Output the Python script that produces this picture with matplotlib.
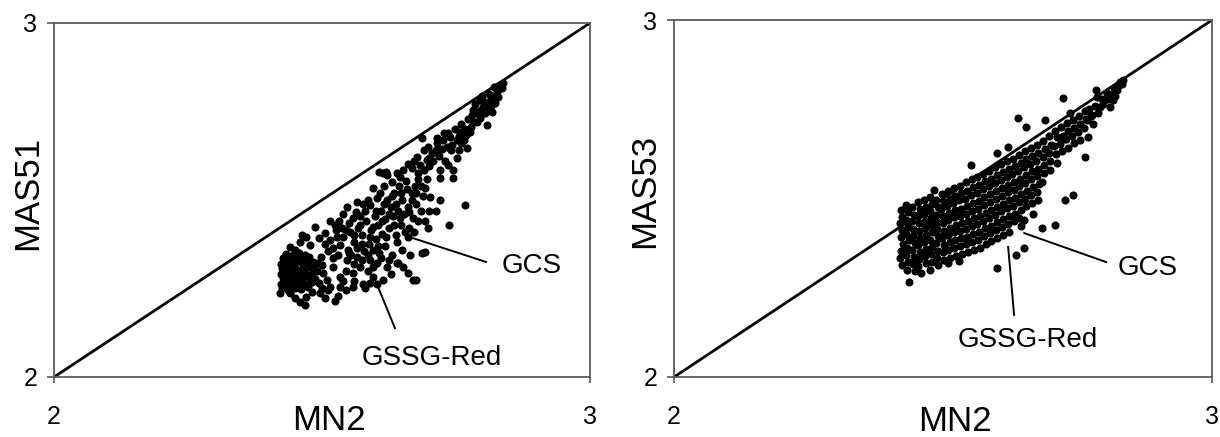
import matplotlib
matplotlib.use('Agg')
import matplotlib.pyplot as plt

plt.rcParams['font.family'] = ['Liberation Sans', 'DejaVu Sans']

# points (MN2, MAS51)
pts_mas51 = [
    # dense blob
    (2.425, 2.250), (2.437, 2.247), (2.449, 2.252), (2.461, 2.249), (2.473, 2.254),
    (2.424, 2.263), (2.434, 2.266), (2.446, 2.262), (2.458, 2.267), (2.470, 2.263), (2.482, 2.268),
    (2.427, 2.279), (2.439, 2.276), (2.451, 2.281), (2.463, 2.277), (2.475, 2.282), (2.486, 2.278),
    (2.423, 2.292), (2.435, 2.294), (2.447, 2.290), (2.459, 2.295), (2.471, 2.291), (2.483, 2.296),
    (2.426, 2.307), (2.438, 2.304), (2.450, 2.309), (2.462, 2.305), (2.474, 2.310), (2.485, 2.306),
    (2.424, 2.320), (2.436, 2.323), (2.448, 2.319), (2.460, 2.324), (2.472, 2.320), (2.484, 2.325),
    (2.428, 2.335), (2.440, 2.332), (2.452, 2.337), (2.464, 2.333), (2.476, 2.338),
    (2.433, 2.347), (2.445, 2.344), (2.457, 2.349), (2.469, 2.345),
    # around the blob
    (2.422, 2.238), (2.440, 2.236), (2.450, 2.222), (2.468, 2.203), (2.471, 2.227), (2.481, 2.240),
    (2.496, 2.236), (2.512, 2.245), (2.524, 2.215), (2.534, 2.255), (2.505, 2.224), (2.458, 2.212),
    (2.440, 2.368), (2.459, 2.382), (2.462, 2.401), (2.487, 2.424), (2.506, 2.406), (2.515, 2.387),
    (2.527, 2.415), (2.534, 2.373), (2.478, 2.372), (2.495, 2.392), (2.449, 2.360), (2.470, 2.395),
    (2.490, 2.321), (2.502, 2.293), (2.521, 2.311), (2.534, 2.283), (2.546, 2.330), (2.558, 2.293),
    (2.571, 2.311), (2.577, 2.264), (2.558, 2.255), (2.596, 2.283), (2.602, 2.321), (2.621, 2.311),
    (2.639, 2.321), (2.652, 2.311), (2.661, 2.293), (2.670, 2.274), (2.686, 2.349), (2.692, 2.354),
    (2.495, 2.265), (2.510, 2.275), (2.498, 2.340), (2.512, 2.355), (2.520, 2.335), (2.530, 2.345),
    (2.545, 2.300), (2.540, 2.270), (2.550, 2.350), (2.565, 2.340), (2.585, 2.300), (2.590, 2.330),
    (2.614, 2.274), (2.603, 2.262), (2.642, 2.322), (2.675, 2.274), (2.628, 2.290), (2.580, 2.250),
    (2.545, 2.245), (2.515, 2.255), (2.490, 2.300), (2.500, 2.315),
    (2.500, 2.250), (2.530, 2.230), (2.560, 2.270), (2.590, 2.265), (2.560, 2.320), (2.575, 2.330),
    (2.595, 2.310), (2.610, 2.335), (2.625, 2.330),
    # middle band
    (2.546, 2.481), (2.565, 2.495), (2.577, 2.490), (2.596, 2.533), (2.614, 2.575), (2.621, 2.570),
    (2.639, 2.575), (2.652, 2.585), (2.661, 2.603), (2.607, 2.578), (2.620, 2.578),
    (2.540, 2.395), (2.552, 2.410), (2.560, 2.380), (2.568, 2.420), (2.575, 2.400), (2.582, 2.440),
    (2.588, 2.375), (2.592, 2.415), (2.598, 2.455), (2.600, 2.390), (2.605, 2.430), (2.610, 2.470),
    (2.612, 2.405), (2.618, 2.445), (2.622, 2.500), (2.625, 2.420), (2.628, 2.480), (2.632, 2.455),
    (2.635, 2.520), (2.638, 2.400), (2.641, 2.470), (2.644, 2.540), (2.647, 2.430), (2.650, 2.500),
    (2.653, 2.460), (2.656, 2.555), (2.660, 2.480), (2.663, 2.420), (2.667, 2.520), (2.670, 2.450),
    (2.673, 2.540), (2.676, 2.490), (2.680, 2.560), (2.684, 2.470), (2.688, 2.510),
    (2.557, 2.450), (2.563, 2.465), (2.571, 2.455), (2.580, 2.470), (2.585, 2.500), (2.590, 2.485),
    (2.603, 2.505), (2.608, 2.520), (2.616, 2.540), (2.630, 2.550), (2.645, 2.565),
    (2.548, 2.360), (2.555, 2.345), (2.565, 2.365), (2.578, 2.355), (2.585, 2.345), (2.595, 2.360),
    (2.607, 2.350), (2.618, 2.370), (2.630, 2.345), (2.640, 2.380), (2.650, 2.360), (2.660, 2.395),
    (2.672, 2.410), (2.665, 2.345), (2.692, 2.440), (2.698, 2.420), (2.700, 2.470),
    (2.532, 2.440), (2.540, 2.460), (2.538, 2.420), (2.525, 2.430), (2.515, 2.440),
    (2.505, 2.375), (2.520, 2.365), (2.528, 2.395), (2.545, 2.415), (2.550, 2.435), (2.560, 2.400),
    (2.570, 2.430), (2.575, 2.375), (2.590, 2.395), (2.595, 2.425), (2.600, 2.470), (2.605, 2.370),
    (2.612, 2.440), (2.615, 2.490), (2.620, 2.395), (2.625, 2.460), (2.630, 2.510), (2.635, 2.430),
    (2.638, 2.490), (2.645, 2.450), (2.648, 2.520), (2.655, 2.410), (2.658, 2.530), (2.662, 2.465),
    (2.668, 2.500), (2.675, 2.520), (2.680, 2.440), (2.685, 2.540), (2.695, 2.560),
    # scattered to the right
    (2.767, 2.486), (2.737, 2.429), (2.720, 2.500), (2.712, 2.470),
    # upper band
    (2.677, 2.622), (2.686, 2.674), (2.695, 2.613), (2.705, 2.632), (2.714, 2.660), (2.720, 2.585),
    (2.726, 2.669), (2.733, 2.651), (2.739, 2.679), (2.745, 2.585), (2.751, 2.669), (2.758, 2.693),
    (2.764, 2.669), (2.770, 2.646), (2.776, 2.693), (2.782, 2.721), (2.789, 2.745), (2.795, 2.731),
    (2.801, 2.764), (2.810, 2.778), (2.807, 2.712), (2.817, 2.749), (2.823, 2.773), (2.826, 2.806),
    (2.832, 2.825), (2.820, 2.820), (2.795, 2.782), (2.782, 2.754), (2.745, 2.561), (2.720, 2.561),
    (2.702, 2.509), (2.692, 2.533),
    (2.668, 2.590), (2.672, 2.610), (2.682, 2.600), (2.690, 2.640), (2.698, 2.650), (2.700, 2.595),
    (2.708, 2.610), (2.712, 2.640), (2.718, 2.625), (2.724, 2.645), (2.730, 2.610), (2.735, 2.690),
    (2.742, 2.655), (2.748, 2.700), (2.755, 2.640), (2.760, 2.715), (2.766, 2.700), (2.772, 2.730),
    (2.778, 2.705), (2.786, 2.770), (2.792, 2.750), (2.798, 2.795), (2.805, 2.745), (2.812, 2.800),
    (2.815, 2.765), (2.828, 2.790), (2.835, 2.815), (2.838, 2.830), (2.680, 2.575), (2.690, 2.585),
    (2.735, 2.600), (2.752, 2.620),
    (2.700, 2.620), (2.715, 2.675), (2.728, 2.690), (2.740, 2.640), (2.755, 2.680), (2.768, 2.685),
    (2.780, 2.740), (2.790, 2.720), (2.800, 2.780), (2.808, 2.760), (2.818, 2.790), (2.825, 2.820),
    (2.760, 2.660),
]

# points (MN2, MAS53)
pts_mas53 = [
    (2.421, 2.468), (2.424, 2.448), (2.420, 2.430), (2.423, 2.411), (2.421, 2.392), (2.425, 2.372),
    (2.422, 2.352), (2.420, 2.334), (2.424, 2.314),
    (2.432, 2.482), (2.435, 2.462), (2.431, 2.441), (2.434, 2.421), (2.432, 2.401), (2.436, 2.383),
    (2.433, 2.362), (2.431, 2.343), (2.435, 2.322), (2.433, 2.300), (2.437, 2.266),
    (2.443, 2.476), (2.446, 2.455), (2.442, 2.436), (2.445, 2.415), (2.444, 2.396), (2.447, 2.376),
    (2.443, 2.356), (2.446, 2.336), (2.444, 2.316), (2.448, 2.296),
    (2.454, 2.490), (2.457, 2.470), (2.453, 2.450), (2.456, 2.430), (2.455, 2.410), (2.458, 2.390),
    (2.454, 2.370), (2.457, 2.350), (2.455, 2.330), (2.453, 2.310), (2.459, 2.292),
    (2.465, 2.497), (2.468, 2.476), (2.464, 2.458), (2.467, 2.437), (2.466, 2.418), (2.469, 2.398),
    (2.465, 2.378), (2.468, 2.358), (2.466, 2.338), (2.469, 2.318),
    (2.476, 2.505), (2.479, 2.485), (2.475, 2.466), (2.478, 2.445), (2.477, 2.425), (2.480, 2.405),
    (2.476, 2.385), (2.479, 2.365), (2.477, 2.344), (2.480, 2.322), (2.476, 2.300),
    (2.483, 2.524), (2.487, 2.495), (2.490, 2.475), (2.486, 2.455), (2.489, 2.435), (2.488, 2.414),
    (2.491, 2.394), (2.487, 2.374), (2.490, 2.353), (2.488, 2.332), (2.491, 2.313),
    (2.498, 2.512), (2.501, 2.490), (2.497, 2.470), (2.500, 2.450), (2.499, 2.430), (2.502, 2.410),
    (2.498, 2.390), (2.501, 2.370), (2.499, 2.350), (2.502, 2.328),
    (2.509, 2.520), (2.512, 2.500), (2.508, 2.480), (2.511, 2.460), (2.510, 2.440), (2.513, 2.418),
    (2.509, 2.398), (2.512, 2.378), (2.510, 2.356), (2.513, 2.334), (2.509, 2.318),
    (2.520, 2.530), (2.523, 2.508), (2.519, 2.488), (2.522, 2.468), (2.521, 2.448), (2.524, 2.425),
    (2.520, 2.405), (2.523, 2.385), (2.521, 2.362), (2.524, 2.340),
    (2.531, 2.536), (2.534, 2.515), (2.530, 2.495), (2.533, 2.472), (2.532, 2.452), (2.535, 2.430),
    (2.531, 2.410), (2.534, 2.388), (2.532, 2.366), (2.535, 2.345), (2.530, 2.325),
    (2.542, 2.545), (2.545, 2.522), (2.541, 2.500), (2.544, 2.480), (2.543, 2.458), (2.546, 2.436),
    (2.542, 2.414), (2.545, 2.392), (2.543, 2.372), (2.546, 2.350),
    (2.552, 2.594), (2.553, 2.556), (2.556, 2.532), (2.552, 2.510), (2.555, 2.488), (2.554, 2.466),
    (2.557, 2.444), (2.553, 2.422), (2.556, 2.400), (2.554, 2.378), (2.557, 2.356),
    (2.564, 2.560), (2.567, 2.538), (2.563, 2.516), (2.566, 2.494), (2.565, 2.472), (2.568, 2.450),
    (2.564, 2.428), (2.567, 2.406), (2.565, 2.384), (2.568, 2.362),
    (2.575, 2.570), (2.578, 2.548), (2.574, 2.526), (2.577, 2.504), (2.576, 2.482), (2.579, 2.460),
    (2.575, 2.438), (2.578, 2.416), (2.576, 2.394), (2.579, 2.372),
    (2.586, 2.578), (2.589, 2.556), (2.585, 2.534), (2.588, 2.512), (2.587, 2.490), (2.590, 2.468),
    (2.586, 2.446), (2.589, 2.424), (2.587, 2.402), (2.590, 2.380),
    (2.600, 2.627), (2.597, 2.588), (2.600, 2.565), (2.596, 2.543), (2.599, 2.521), (2.598, 2.499),
    (2.601, 2.477), (2.597, 2.455), (2.600, 2.433), (2.598, 2.411), (2.601, 2.389), (2.600, 2.305),
    (2.608, 2.596), (2.611, 2.574), (2.607, 2.552), (2.610, 2.530), (2.609, 2.508), (2.612, 2.486),
    (2.608, 2.464), (2.611, 2.442), (2.609, 2.420), (2.612, 2.398),
    (2.621, 2.644), (2.619, 2.605), (2.622, 2.583), (2.618, 2.561), (2.621, 2.539), (2.620, 2.517),
    (2.623, 2.495), (2.619, 2.473), (2.622, 2.451), (2.620, 2.429), (2.623, 2.407),
    (2.630, 2.612), (2.633, 2.590), (2.629, 2.568), (2.632, 2.546), (2.631, 2.524), (2.634, 2.502),
    (2.630, 2.480), (2.633, 2.458), (2.631, 2.436), (2.636, 2.342),
    (2.640, 2.725), (2.641, 2.622), (2.644, 2.600), (2.640, 2.578), (2.643, 2.556), (2.642, 2.534),
    (2.645, 2.512), (2.641, 2.490), (2.644, 2.468), (2.642, 2.446), (2.645, 2.424),
    (2.654, 2.700), (2.652, 2.632), (2.655, 2.610), (2.651, 2.588), (2.654, 2.566), (2.653, 2.544),
    (2.656, 2.522), (2.652, 2.500), (2.655, 2.478), (2.651, 2.361), (2.650, 2.440),
    (2.663, 2.642), (2.666, 2.620), (2.662, 2.598), (2.665, 2.576), (2.664, 2.554), (2.667, 2.532),
    (2.663, 2.510), (2.666, 2.488), (2.668, 2.458),
    (2.674, 2.650), (2.677, 2.628), (2.673, 2.606), (2.676, 2.584), (2.675, 2.562), (2.678, 2.540),
    (2.674, 2.518), (2.677, 2.496),
    (2.686, 2.660), (2.689, 2.638), (2.685, 2.616), (2.688, 2.594), (2.687, 2.572), (2.684, 2.546),
    (2.683, 2.416), (2.690, 2.720),
    (2.697, 2.676), (2.700, 2.650), (2.696, 2.628), (2.699, 2.606), (2.698, 2.580),
    (2.708, 2.690), (2.711, 2.673), (2.707, 2.648), (2.710, 2.624), (2.708, 2.426), (2.712, 2.600),
    (2.719, 2.700), (2.722, 2.676), (2.718, 2.654), (2.721, 2.632), (2.723, 2.781), (2.727, 2.496),
    (2.724, 2.668), (2.730, 2.712), (2.733, 2.690), (2.729, 2.666), (2.732, 2.642), (2.736, 2.739),
    (2.741, 2.720), (2.744, 2.698), (2.740, 2.676), (2.742, 2.510), (2.743, 2.655),
    (2.752, 2.732), (2.755, 2.708), (2.751, 2.686), (2.754, 2.664),
    (2.763, 2.745), (2.766, 2.722), (2.762, 2.698), (2.764, 2.616), (2.767, 2.720),
    (2.772, 2.752), (2.775, 2.730), (2.770, 2.672), (2.776, 2.734), (2.779, 2.708),
    (2.784, 2.804), (2.786, 2.785), (2.783, 2.760), (2.788, 2.740),
    (2.792, 2.757), (2.795, 2.780), (2.798, 2.765),
    (2.804, 2.795), (2.806, 2.778), (2.810, 2.757), (2.812, 2.790),
    (2.818, 2.810), (2.823, 2.804), (2.820, 2.788), (2.826, 2.815), (2.829, 2.827), (2.832, 2.822),
    (2.835, 2.832), (2.815, 2.775),
]

axis_min, axis_max = 2, 3
ticks = [2, 3]

fig = plt.figure(figsize=(12.2, 4.37), dpi=100)
ax1 = fig.add_axes([0.0443, 0.1373, 0.4393, 0.8101])
ax2 = fig.add_axes([0.5525, 0.1373, 0.4410, 0.8169])


def panel(ax, pts, ylab, gcs_txt, gcs_line, red_txt, red_line, ylab_x, xlab_x):
    xs = [p[0] for p in pts]
    ys = [p[1] for p in pts]
    ax.plot([axis_min, axis_max], [axis_min, axis_max], color='black', lw=2.0,
            solid_capstyle='butt', zorder=2)
    ax.scatter(xs, ys, s=34, color='black', linewidths=0, zorder=3)
    ax.set_xlim(axis_min, axis_max)
    ax.set_ylim(axis_min, axis_max)
    ax.set_xticks(ticks)
    ax.set_yticks(ticks)
    ax.set_xticklabels([str(t) for t in ticks])
    ax.set_yticklabels([str(t) for t in ticks])
    ax.tick_params(axis='x', direction='out', length=4.5, width=1.2, color='#5a5a5a',
                   labelsize=18, pad=16)
    ax.tick_params(axis='y', direction='out', length=5, width=1.2, color='#5a5a5a',
                   labelsize=18, pad=7)
    for sp in ax.spines.values():
        sp.set_color('#5a5a5a')
        sp.set_linewidth(1.3)
    ax.text(ylab_x, 0.52, ylab, transform=ax.transAxes, rotation=90,
            ha='center', va='center', fontsize=25)
    ax.text(xlab_x, -0.15, 'MN2', transform=ax.transAxes, ha='center',
            va='baseline', fontsize=25)
    ax.plot(gcs_line[0], gcs_line[1], color='black', lw=1.4, zorder=4)
    ax.plot(red_line[0], red_line[1], color='black', lw=1.4, zorder=4)
    ax.text(gcs_txt[0], gcs_txt[1], 'GCS', ha='left', va='baseline', fontsize=20)
    ax.text(red_txt[0], red_txt[1], 'GSSG-Red', ha='left', va='baseline', fontsize=20)


panel(ax1, pts_mas51, 'MAS51',
      (2.836, 2.294), ([2.664, 2.806], [2.395, 2.325]),
      (2.573, 2.034), ([2.603, 2.636], [2.260, 2.138]),
      -0.050, 0.513)
panel(ax2, pts_mas53, 'MAS53',
      (2.825, 2.286), ([2.651, 2.803], [2.403, 2.322]),
      (2.528, 2.084), ([2.621, 2.632], [2.364, 2.174]),
      -0.054, 0.522)

fig.savefig('out.png', dpi=100)
